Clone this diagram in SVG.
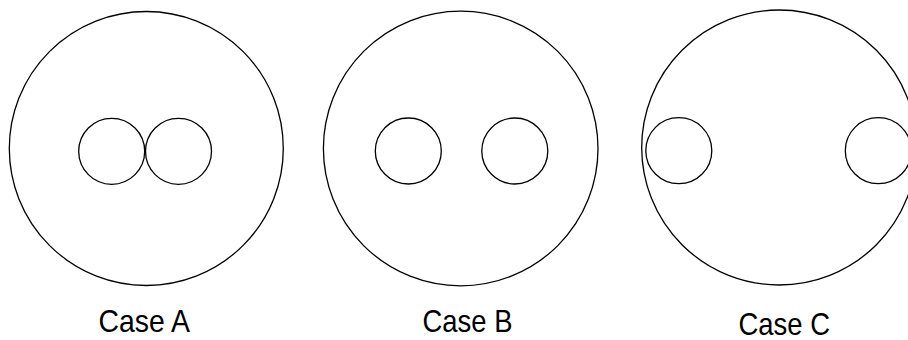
<svg xmlns="http://www.w3.org/2000/svg" width="908" height="340" viewBox="0 0 908 340">
<style>
circle{fill:none;stroke:#000;stroke-width:1.3}
text{font-family:"Liberation Sans",Arial,sans-serif;font-size:32px;fill:#000}
</style>
<rect width="908" height="340" fill="#fff"/>
<g id="caseA">
<circle cx="146.3" cy="148.5" r="137"/>
<circle cx="111.7" cy="151.3" r="33"/>
<circle cx="178.5" cy="151.3" r="33"/>
<text x="98.5" y="332.3" textLength="91.5" lengthAdjust="spacingAndGlyphs">Case A</text>
</g>
<g id="caseB">
<circle cx="460.7" cy="148.5" r="137.3"/>
<circle cx="408.3" cy="151" r="33"/>
<circle cx="514.8" cy="151" r="33"/>
<text x="422.5" y="332.3" textLength="90" lengthAdjust="spacingAndGlyphs">Case B</text>
</g>
<g id="caseC">
<circle cx="779.2" cy="147.5" r="137.5"/>
<circle cx="678.8" cy="150.7" r="33"/>
<circle cx="878.3" cy="150.7" r="33"/>
<text x="738.5" y="335.3" textLength="91.5" lengthAdjust="spacingAndGlyphs">Case C</text>
</g>
<g id="connectors"/>
</svg>
